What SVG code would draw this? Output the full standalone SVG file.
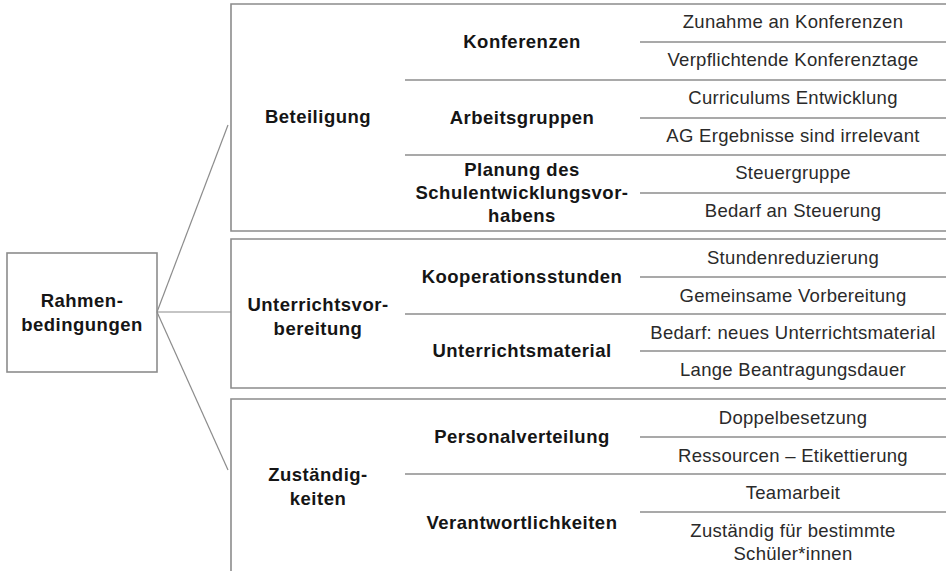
<svg xmlns="http://www.w3.org/2000/svg" width="946" height="571" viewBox="0 0 946 571">
<style>
.bg{fill:#ffffff}
.box{fill:none;stroke:#8c8c8c;stroke-width:1.6}
.div{stroke:#8c8c8c;stroke-width:1.4;fill:none}
.con{stroke:#8c8c8c;stroke-width:1.2;fill:none}
.m{font-family:"Liberation Sans",Arial,sans-serif;font-size:18.5px;font-weight:bold;fill:#151515;text-anchor:middle;letter-spacing:0.5px}
.r{font-family:"Liberation Sans",Arial,sans-serif;font-size:18.5px;fill:#2a2a2a;text-anchor:middle;letter-spacing:0.3px}
</style>
<rect class="bg" x="0" y="0" width="946" height="571"/>
<g id="connectors">
<line class="con" x1="157" y1="312" x2="228" y2="125"/>
<line class="con" x1="157" y1="312" x2="231" y2="312"/>
<line class="con" x1="157" y1="312" x2="228" y2="470"/>
</g>
<g id="root">
<rect class="box" x="7" y="253" width="150" height="119"/>
<text class="m" x="82" y="307">Rahmen-</text>
<text class="m" x="82" y="331">bedingungen</text>
</g>
<g id="beteiligung">
<path class="box" d="M948,4 H231 V231 H948"/>
<text class="m" x="318" y="123">Beteiligung</text>
<line class="div" x1="405" y1="80" x2="946" y2="80"/>
<line class="div" x1="405" y1="155" x2="946" y2="155"/>
<line class="div" x1="640" y1="42" x2="946" y2="42"/>
<line class="div" x1="640" y1="118" x2="946" y2="118"/>
<line class="div" x1="640" y1="193" x2="946" y2="193"/>
</g>
<g id="konferenzen">
<text class="m" x="522" y="48">Konferenzen</text>
</g>
<g id="zunahme"><text class="r" x="793" y="28">Zunahme an Konferenzen</text></g>
<g id="verpflichtende"><text class="r" x="793" y="66">Verpflichtende Konferenztage</text></g>
<g id="arbeitsgruppen">
<text class="m" x="522" y="124">Arbeitsgruppen</text>
</g>
<g id="curriculums"><text class="r" x="793" y="104">Curriculums Entwicklung</text></g>
<g id="ag-ergebnisse"><text class="r" x="793" y="142">AG Ergebnisse sind irrelevant</text></g>
<g id="planung">
<text class="m" x="522" y="176">Planung des</text>
<text class="m" x="522" y="199">Schulentwicklungsvor-</text>
<text class="m" x="522" y="222">habens</text>
</g>
<g id="steuergruppe"><text class="r" x="793" y="179">Steuergruppe</text></g>
<g id="bedarf-steuerung"><text class="r" x="793" y="217">Bedarf an Steuerung</text></g>

<g id="unterrichtsvorbereitung">
<path class="box" d="M948,239 H231 V388 H948"/>
<text class="m" x="318" y="311">Unterrichtsvor-</text>
<text class="m" x="318" y="335">bereitung</text>
<line class="div" x1="405" y1="314" x2="946" y2="314"/>
<line class="div" x1="640" y1="277" x2="946" y2="277"/>
<line class="div" x1="640" y1="351" x2="946" y2="351"/>
</g>
<g id="kooperationsstunden"><text class="m" x="522" y="283">Kooperationsstunden</text></g>
<g id="stundenreduzierung"><text class="r" x="793" y="264">Stundenreduzierung</text></g>
<g id="gemeinsame"><text class="r" x="793" y="302">Gemeinsame Vorbereitung</text></g>
<g id="unterrichtsmaterial"><text class="m" x="522" y="357">Unterrichtsmaterial</text></g>
<g id="bedarf-material"><text class="r" x="793" y="339">Bedarf: neues Unterrichtsmaterial</text></g>
<g id="beantragung"><text class="r" x="793" y="376">Lange Beantragungsdauer</text></g>

<g id="zustaendigkeiten">
<path class="box" d="M948,399 H231 V575"/>
<text class="m" x="318" y="481">Zuständig-</text>
<text class="m" x="318" y="505">keiten</text>
<line class="div" x1="405" y1="474" x2="946" y2="474"/>
<line class="div" x1="640" y1="437" x2="946" y2="437"/>
<line class="div" x1="640" y1="512" x2="946" y2="512"/>
</g>
<g id="personalverteilung"><text class="m" x="522" y="443">Personalverteilung</text></g>
<g id="doppelbesetzung"><text class="r" x="793" y="424">Doppelbesetzung</text></g>
<g id="ressourcen"><text class="r" x="793" y="462">Ressourcen – Etikettierung</text></g>
<g id="verantwortlichkeiten"><text class="m" x="522" y="529">Verantwortlichkeiten</text></g>
<g id="teamarbeit"><text class="r" x="793" y="499">Teamarbeit</text></g>
<g id="zustaendig-schueler">
<text class="r" x="793" y="537">Zuständig für bestimmte</text>
<text class="r" x="793" y="560">Schüler*innen</text>
</g>
</svg>
